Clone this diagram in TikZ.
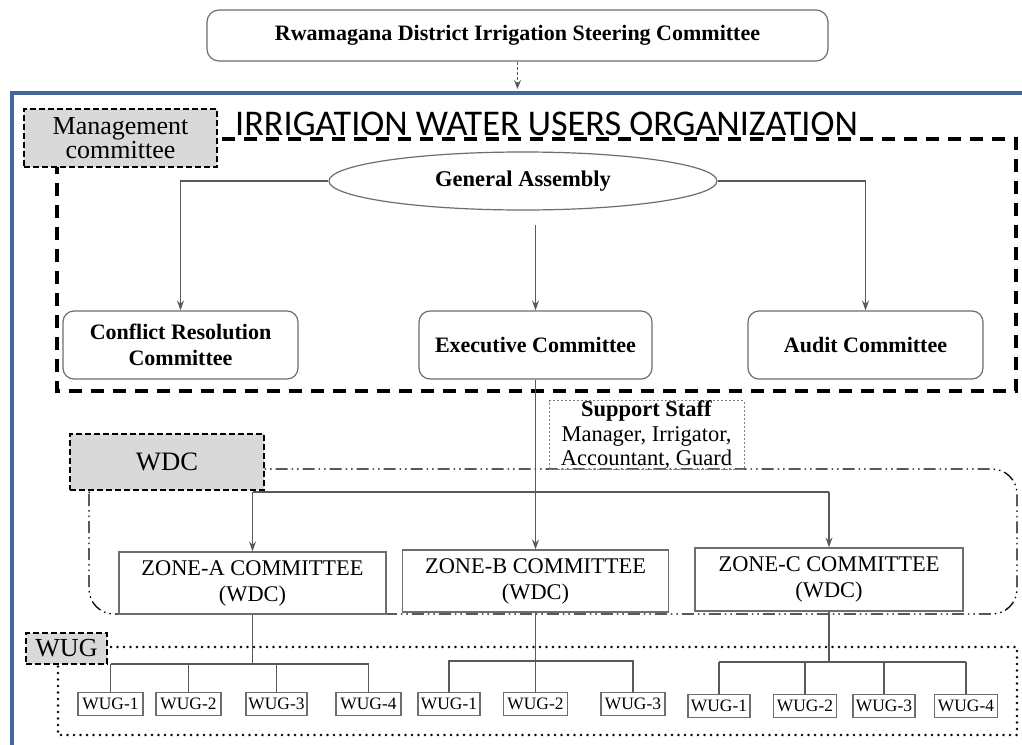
\documentclass[tikz,border=0pt]{standalone}
\usepackage{fontspec}
\setmainfont{Liberation Serif}
\newfontfamily\titlefont{Carlito}
\usetikzlibrary{arrows.meta,shapes.geometric}

\definecolor{frameblue}{RGB}{68,103,154}
\definecolor{linegray}{RGB}{89,89,89}
\definecolor{boxgray}{RGB}{110,110,110}
\definecolor{labelfill}{RGB}{217,217,217}

\tikzset{
  conn/.style={draw=linegray, line width=1.2pt},
  arr/.style={conn, -{Stealth[length=10pt,width=7pt,inset=3.5pt]}},
  rbox/.style={draw=boxgray, line width=1.2pt, rounded corners=11pt, fill=white,
    inner sep=0pt, align=center, font=\bfseries\fontsize{22}{26}\selectfont},
  zbox/.style={draw=boxgray, line width=1.3pt, fill=white, inner sep=0pt,
    align=center, font=\fontsize{22.4}{26}\selectfont,
    minimum width=266pt, minimum height=62pt},
  wbox/.style={draw=boxgray, line width=1.2pt, fill=white, inner sep=0pt,
    minimum height=23pt, font=\fontsize{17.4}{18}\selectfont},
  tagbox/.style={draw=black, line width=2pt, dash pattern=on 6pt off 3pt,
    fill=labelfill, inner sep=0pt, align=center},
}

\begin{document}
\begin{tikzpicture}[x=1pt,y=-1pt]
\clip (0,0) rectangle (1022,744);
\fill[white] (0,0) rectangle (1022,744);

% steering committee on top
\node[rbox, rounded corners=12pt, minimum width=621pt, minimum height=51pt]
  (steer) at (517.5,35.5) {Rwamagana District Irrigation Steering Committee};
\coordinate (orgtop) at (517.5,89);
\draw[conn, dash pattern=on 3pt off 2pt, -{Stealth[length=9pt,width=7pt,inset=3.5pt]}]
  (steer.south) -- (orgtop);

% organisation frame
\draw[frameblue, line width=3.5pt] (12,900) -- (12,93) -- (1100,93);

% grouping regions
\draw[line width=3.5pt, dash pattern=on 13pt off 9pt] (57,139) rectangle (1016,391);
\draw[line width=1.3pt, dash pattern=on 12pt off 4pt on 1.5pt off 4pt on 1.5pt off 4pt,
  rounded corners=25pt] (89,469) rectangle (1017,614);
\draw[line width=2.8pt, line cap=round, dash pattern=on 0pt off 6.5pt]
  (58,647) rectangle (1017,735);

% group labels
\node[tagbox, minimum width=193pt, minimum height=58pt,
  font=\fontsize{26}{24}\selectfont] (mgmt) at (120.5,138) {Management\\committee};
\node[anchor=base west, inner sep=0pt, font=\titlefont\fontsize{36.2}{37}\selectfont]
  (title) at (235,135) {IRRIGATION WATER USERS ORGANIZATION};
\node[tagbox, minimum width=194pt, minimum height=56pt,
  font=\fontsize{26.6}{28}\selectfont] (wdc) at (167,462) {WDC};
\node[tagbox, minimum width=81pt, minimum height=31pt,
  font=\fontsize{26}{28}\selectfont] (wug) at (66.5,648.5) {WUG};

% management committee
\node[ellipse, draw=boxgray, line width=1.2pt, fill=white, minimum width=388pt,
  minimum height=58pt, inner sep=0pt, font=\bfseries\fontsize{22.5}{24}\selectfont]
  (ga) at (523,181) {General Assembly};
\node[rbox, minimum width=235pt, minimum height=68pt] (conf) at (180.5,345)
  {Conflict Resolution\\Committee};
\node[rbox, minimum width=233pt, minimum height=68pt] (exec) at (535.5,345)
  {Executive Committee};
\node[rbox, minimum width=235pt, minimum height=68pt] (audit) at (865.5,345)
  {Audit Committee};

\draw[arr] (ga.west) -| (conf.north);
\draw[arr] (ga.east) -| (audit.north);
\coordinate (gaout) at (535.5,225);
\draw[arr] (gaout) -- (exec.north);

% support staff
\node[draw=gray, line width=0.8pt, dash pattern=on 2.5pt off 1.5pt,
  minimum width=195pt, minimum height=68pt, inner sep=0pt, align=center,
  font=\fontsize{22.5}{24.5}\selectfont] (staff) at (646.5,435)
  {\textbf{Support Staff}\\Manager, Irrigator,\\Accountant, Guard};

% zone committees
\node[zbox, minimum width=267pt] (za) at (252.5,583) {ZONE-A COMMITTEE\\(WDC)};
\node[zbox] (zb) at (535.5,581) {ZONE-B COMMITTEE\\(WDC)};
\node[zbox, minimum width=268pt, minimum height=63pt] (zc) at (829,579.5)
  {ZONE-C COMMITTEE\\(WDC)};

\draw[arr] (exec.south) -- (zb.north);
\coordinate (wdcbus) at (252.5,492);
\draw[conn] (za.north |- wdcbus) -- (zc.north |- wdcbus);
\draw[arr] (za.north |- wdcbus) -- (za.north);
\draw[arr] (zc.north |- wdcbus) -- (zc.north);

% water user groups
\node[wbox, minimum width=65pt] (wa1) at (110.5,704) {WUG-1};
\node[wbox, minimum width=65pt] (wa2) at (188.5,704) {WUG-2};
\node[wbox, minimum width=61pt] (wa3) at (276.5,704) {WUG-3};
\node[wbox, minimum width=65pt] (wa4) at (368.5,704) {WUG-4};

\node[wbox, minimum width=62pt] (wb1) at (449,704) {WUG-1};
\node[wbox, minimum width=64pt] (wb2) at (535.5,704) {WUG-2};
\node[wbox, minimum width=64pt] (wb3) at (633,704) {WUG-3};

\node[wbox, minimum width=62pt] (wc1) at (719,706) {WUG-1};
\node[wbox, minimum width=63pt] (wc2) at (805,706) {WUG-2};
\node[wbox, minimum width=62pt] (wc3) at (884,706) {WUG-3};
\node[wbox, minimum width=63pt] (wc4) at (966,706) {WUG-4};

% zone A tree
\coordinate (busA) at (0,664);
\draw[conn] (za.south) -- (za.south |- busA);
\draw[conn] (wa1.north |- busA) -- (wa4.north |- busA);
\foreach \w in {wa1,wa2,wa3,wa4}
  \draw[conn] (\w.north |- busA) -- (\w.north);

% zone B tree
\coordinate (busB) at (0,661);
\draw[conn] (zb.south) -- (wb2.north);
\draw[conn] (wb1.north) -- (wb1.north |- busB) -- (wb3.north |- busB) -- (wb3.north);

% zone C tree
\coordinate (busC) at (0,662);
\draw[conn] (zc.south) -- (zc.south |- busC);
\draw[conn] (wc1.north |- busC) -- (wc4.north |- busC);
\foreach \w in {wc1,wc2,wc3,wc4}
  \draw[conn] (\w.north |- busC) -- (\w.north);
\end{tikzpicture}
\end{document}
